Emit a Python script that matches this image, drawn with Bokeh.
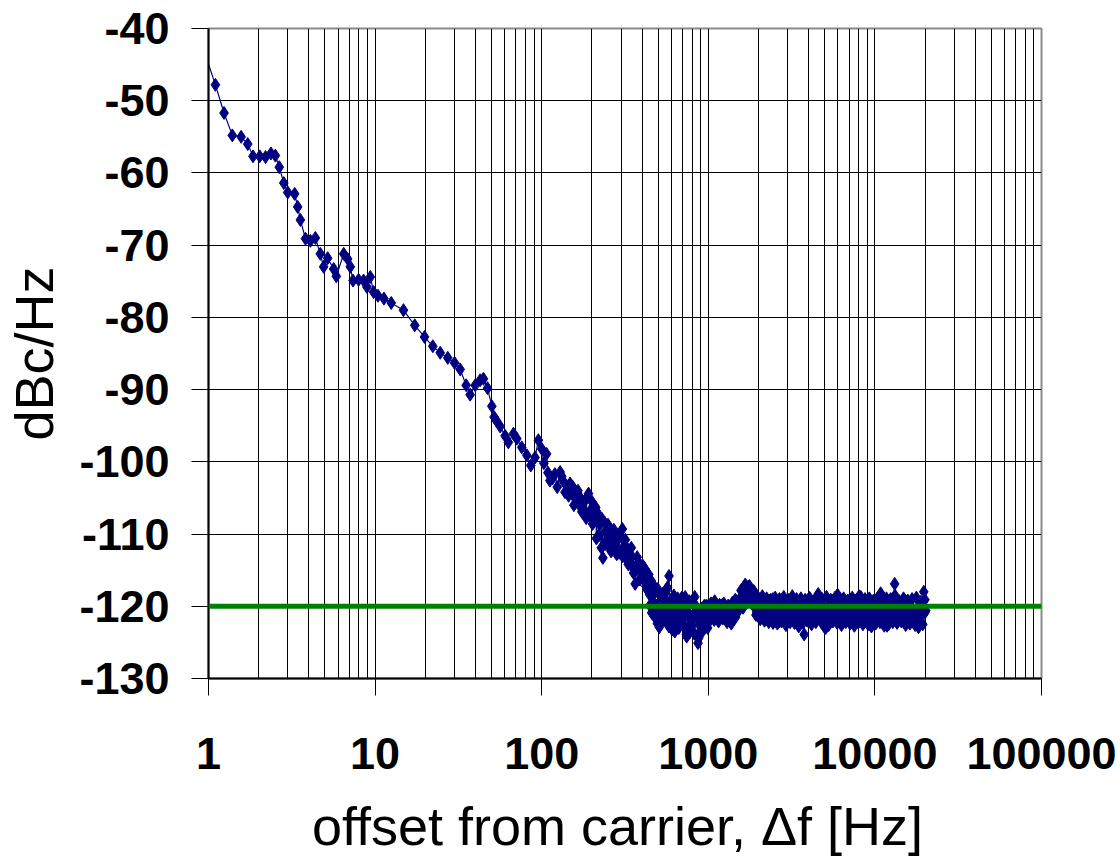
from bokeh.plotting import figure
from bokeh.models import Range1d, FixedTicker, Span, ColumnDataSource
from bokeh.embed import file_html
from bokeh.resources import INLINE

# ---------------- data ----------------
# 1 Hz .. 145 Hz : the sloped part
freq_slope_hz = [
    1.0, 1.10, 1.24, 1.39, 1.57, 1.72, 1.85, 2.03, 2.20, 2.37,
    2.52, 2.66, 2.83, 2.99, 3.29, 3.43, 3.56, 3.82, 4.09, 4.38,
    4.69, 4.91, 5.19, 5.64, 5.85, 6.48, 6.84, 7.10, 7.37, 7.96,
    8.53, 8.94, 9.36, 9.80, 10.4, 11.3, 12.5, 14.8, 17.3, 19.8,
    22.2, 24.6, 27.3, 30.0, 32.4, 35.2, 37.2, 39.9, 42.7, 44.7,
    47.3, 50.2, 51.8, 53.5, 56.3, 60.3, 63.1, 67.7, 70.9, 75.9,
    81.4, 86.0, 91.2, 95.5, 100, 107, 112, 120, 129, 134,
    141, 145,
]
pn_slope_dbc = [
    -44.9, -47.8, -51.7, -54.8, -55.0, -56.0, -57.7, -57.7, -57.8, -57.3,
    -57.6, -59.2, -61.4, -62.7, -62.9, -64.7, -66.5, -69.1, -69.4, -69.0,
    -71.2, -73.0, -71.8, -73.3, -74.3, -71.2, -71.9, -73.0, -74.9, -74.8,
    -74.9, -75.8, -74.4, -76.5, -77.0, -77.4, -78.0, -79.0, -81.1, -82.7,
    -84.0, -84.9, -85.6, -86.3, -87.2, -89.4, -90.7, -89.4, -88.7, -88.5,
    -89.8, -92.3, -93.8, -94.3, -95.1, -96.4, -97.3, -96.1, -96.8, -98.0,
    -99.1, -100.5, -99.4, -97.0, -98.2, -98.9, -102.6, -101.7, -101.4, -102.6,
    -103.3, -104.7,
]
freq_slope_b_hz = [103, 109, 116, 124, 132, 138, 148, 156, 165, 174, 185, 197]
pn_slope_b_dbc = [-100.2, -101.5, -102.3, -103.5, -102.0, -104.2, -103.0, -106.0, -104.0, -106.9, -107.8, -107.6]

# 150 Hz .. 1 kHz : the knee
freq_knee_hz = [
    150, 153, 157, 160, 164, 167, 171, 175, 179, 183,
    187, 191, 195, 200, 204, 209, 213, 218, 223, 228,
    233, 238, 244, 249, 255, 261, 267, 273, 279, 285,
    291, 298, 305, 312, 319, 326, 333, 341, 348, 356,
    364, 372, 381, 389, 398, 407, 416, 426, 435, 445,
    455, 465, 476, 486, 497, 508, 520, 532, 543, 556,
    568, 581, 594, 607, 621, 635, 649, 664, 679, 694,
    710, 726, 742, 759, 776, 793, 811, 829, 848, 867,
    887, 907, 927, 948, 969, 991,
]
pn_knee_dbc = [
    -104.0, -103.4, -104.8, -105.2, -104.3, -105.9, -105.0, -106.2, -105.6, -107.0,
    -104.9, -104.4, -106.8, -105.5, -107.4, -108.1, -110.6, -107.2, -108.6, -111.9,
    -113.3, -108.4, -109.6, -111.0, -109.9, -112.4, -110.6, -112.0, -111.2, -110.5,
    -112.6, -110.3, -109.3, -111.7, -113.3, -112.0, -112.8, -114.0, -113.1, -115.4,
    -116.9, -114.9, -113.9, -114.3, -115.9, -115.8, -114.8, -117.3, -116.1, -118.4,
    -116.5, -119.5, -118.0, -121.3, -117.6, -122.9, -120.4, -118.3, -121.9, -119.2,
    -117.4, -115.8, -120.7, -123.2, -118.5, -120.6, -121.8, -119.4, -122.6, -118.8,
    -120.2, -118.7, -124.2, -121.0, -122.5, -121.8, -119.7, -118.7, -121.6, -125.1,
    -122.6, -120.3, -123.4, -119.9, -121.6, -123.0,
]
freq_knee_b_hz = [
    202, 211, 220, 230, 240, 250, 260, 271, 282, 294,
    306, 318, 331, 345, 359, 374, 389, 405, 422, 439,
    457, 476, 495, 515, 536, 558, 581, 605, 630, 655,
    682, 710, 739, 769, 800, 833, 867, 902, 939, 977,
]
pn_knee_b_dbc = [
    -108.6, -106.3, -110.2, -107.9, -111.4, -108.7, -112.2, -109.4, -112.8, -110.0,
    -113.1, -110.8, -114.2, -111.9, -115.0, -113.2, -116.3, -114.4, -117.2, -115.6,
    -120.9, -117.3, -122.4, -118.6, -121.5, -117.9, -122.8, -119.0, -123.5, -118.9,
    -121.9, -119.6, -123.9, -119.3, -122.7, -119.8, -124.0, -120.6, -122.5, -119.9,
]
freq_knee_c_hz = [
    432, 446, 460, 474, 489, 504, 520, 536, 553, 570,
    588, 606, 625, 645, 665, 686, 707, 729, 752, 775,
    800, 825, 850, 877, 904, 932, 961, 991,
]
pn_knee_c_dbc = [
    -117.8, -119.9, -118.6, -121.4, -119.9, -121.0, -122.2, -120.2, -120.9, -122.4,
    -121.6, -119.8, -122.0, -121.0, -123.0, -120.6, -121.8, -123.0, -120.7, -123.6,
    -121.5, -123.8, -120.8, -124.4, -122.0, -121.2, -122.8, -121.4,
]
# 1 kHz .. 20 kHz : the flat floor
freq_floor_hz = [
    1000, 1015, 1030, 1046, 1061, 1077, 1093, 1110, 1126, 1143,
    1161, 1178, 1196, 1214, 1232, 1250, 1269, 1288, 1307, 1327,
    1347, 1367, 1388, 1408, 1430, 1451, 1473, 1495, 1517, 1540,
    1563, 1587, 1610, 1635, 1659, 1684, 1709, 1735, 1761, 1787,
    1814, 1841, 1869, 1897, 1925, 1954, 1984, 2013, 2044, 2074,
    2106, 2137, 2169, 2202, 2235, 2268, 2302, 2337, 2372, 2408,
    2444, 2480, 2518, 2555, 2594, 2633, 2672, 2712, 2753, 2794,
    2836, 2879, 2922, 2966, 3010, 3055, 3101, 3148, 3195, 3243,
    3292, 3341, 3391, 3442, 3493, 3546, 3599, 3653, 3708, 3763,
    3820, 3877, 3935, 3994, 4054, 4115, 4177, 4239, 4303, 4367,
    4433, 4499, 4567, 4635, 4705, 4775, 4847, 4920, 4993, 5068,
    5144, 5222, 5300, 5380, 5460, 5542, 5625, 5710, 5795, 5882,
    5970, 6060, 6151, 6243, 6337, 6432, 6528, 6626, 6726, 6826,
    6929, 7033, 7138, 7245, 7354, 7464, 7576, 7690, 7805, 7922,
    8041, 8162, 8284, 8408, 8535, 8663, 8793, 8924, 9058, 9194,
    9332, 9472, 9614, 9758, 9905, 10050, 10200, 10360, 10510, 10670,
    10830, 10990, 11160, 11320, 11490, 11670, 11840, 12020, 12200, 12380,
    12570, 12760, 12950, 13140, 13340, 13540, 13740, 13950, 14160, 14370,
    14590, 14800, 15030, 15250, 15480, 15710, 15950, 16190, 16430, 16680,
    16930, 17180, 17440, 17700, 17970, 18240, 18510, 18790, 19070, 19360,
    19650, 19940, 20180,
]
pn_floor_dbc = [
    -121.2, -120.1, -121.8, -120.4, -121.5, -119.6, -119.3, -120.7, -121.0, -120.2,
    -121.5, -120.4, -121.1, -119.8, -120.6, -121.3, -120.2, -121.0, -121.7, -120.5,
    -122.1, -121.0, -120.3, -121.4, -119.6, -119.1, -120.2, -119.4, -120.0, -119.7,
    -118.8, -119.5, -118.4, -117.4, -117.1, -118.0, -118.6, -117.3, -118.1, -117.5,
    -118.4, -118.9, -118.2, -119.4, -120.4, -120.8, -119.7, -120.3, -119.0, -119.6,
    -120.5, -119.3, -120.9, -121.3, -119.7, -120.4, -121.0, -119.2, -120.6, -121.2,
    -119.0, -120.1, -121.4, -120.3, -119.4, -121.0, -122.1, -120.7, -119.6, -120.2,
    -121.3, -119.5, -120.8, -120.4, -119.1, -121.6, -120.3, -119.4, -121.0, -119.2,
    -120.6, -121.9, -119.8, -120.5, -121.4, -121.7, -119.4, -120.9, -122.3, -123.9,
    -121.6, -120.3, -119.5, -121.2, -120.0, -119.8, -121.4, -120.6, -119.3, -121.9,
    -120.8, -119.7, -118.3, -120.2, -121.6, -122.2, -120.4, -121.8, -122.9, -123.0,
    -121.5, -120.3, -119.8, -121.4, -120.6, -119.6, -119.2, -120.8, -121.9, -120.4,
    -118.4, -120.0, -121.3, -122.0, -119.9, -120.7, -121.5, -119.5, -120.3, -121.8,
    -120.6, -121.2, -119.3, -120.7, -122.0, -121.1, -119.8, -120.5, -122.2, -120.9,
    -118.6, -120.3, -121.4, -122.1, -120.0, -119.5, -121.2, -120.4, -121.8, -122.5,
    -120.7, -122.6, -120.9, -119.4, -121.3, -120.2, -121.6, -119.8, -120.5, -121.7,
    -118.2, -120.5, -121.9, -120.3, -121.4, -122.1, -122.7, -120.6, -119.5, -121.0,
    -120.2, -119.1, -119.8, -116.9, -120.4, -121.2, -120.0, -120.8, -120.5, -121.5,
    -119.6, -120.3, -119.1, -120.6, -121.3, -120.1, -121.8, -120.7, -119.9, -121.4,
    -120.8, -121.9, -122.6, -121.3, -120.5, -121.7, -121.6, -120.4, -121.0, -120.2,
    -118.0, -120.9, -120.6,
]
freq_floor_b_hz = [
    1008, 1038, 1069, 1101, 1135, 1169, 1204, 1240, 1277, 1316,
    1355, 1396, 1438, 1481, 1525, 1571, 1618, 1667, 1717, 1768,
    1821, 1876, 1932, 1990, 2050, 2111, 2175, 2240, 2307, 2376,
    2448, 2521, 2597, 2675, 2755, 2838, 2923, 3010, 3101, 3194,
    3290, 3388, 3490, 3595, 3702, 3813, 3928, 4046, 4167, 4292,
    4421, 4553, 4690, 4831, 4976, 5125, 5279, 5437, 5600, 5768,
    5941, 6120, 6303, 6492, 6687, 6888, 7094, 7307, 7526, 7752,
    7985, 8224, 8471, 8725, 8987, 9256, 9534, 9820, 10110, 10420,
    10730, 11050, 11380, 11730, 12080, 12440, 12810, 13200, 13590, 14000,
    14420, 14850, 15300, 15760, 16230, 16720, 17220, 17740, 18270, 18820,
    19380, 19960,
]
pn_floor_b_dbc = [
    -121.3, -119.6, -121.2, -119.7, -121.5, -119.8, -121.1, -119.6, -121.6, -119.9,
    -121.8, -119.5, -121.0, -119.3, -120.6, -117.8, -120.2, -117.0, -119.4, -117.2,
    -119.6, -117.9, -121.2, -118.8, -121.8, -118.6, -122.0, -118.9, -122.2, -119.1,
    -122.3, -118.8, -122.4, -119.0, -122.1, -118.7, -122.6, -119.2, -122.2, -118.6,
    -122.3, -119.0, -122.8, -118.9, -122.2, -119.1, -122.0, -118.8, -122.5, -119.3,
    -122.2, -118.9, -121.9, -119.0, -122.4, -118.7, -122.6, -119.1, -122.1, -118.8,
    -122.3, -119.0, -122.6, -118.9, -122.2, -119.2, -122.4, -118.8, -122.7, -119.1,
    -122.2, -118.7, -122.5, -119.0, -122.3, -118.9, -122.8, -119.2, -122.4, -118.8,
    -122.2, -119.1, -122.7, -118.9, -122.5, -119.0, -122.2, -118.5, -122.3, -119.3,
    -122.1, -118.9, -122.6, -119.2, -122.4, -119.0, -122.2, -118.8, -122.9, -119.4,
    -122.5, -119.1,
]
freq_floor_c_hz = [1020, 1055, 1085, 1118, 1152, 1186, 1222, 1258, 1296, 1335, 1375, 1417, 1459, 1503]
pn_floor_c_dbc = [-122.0, -120.9, -121.9, -120.0, -122.1, -121.0, -121.7, -120.3, -122.2, -121.2, -122.4, -120.6, -121.5, -119.9]

reference_level_dbc = -120

x_ticks = [1, 10, 100, 1000, 10000, 100000]
x_tick_labels = ["1", "10", "100", "1000", "10000", "100000"]
x_minor_ticks = [m * d for d in [1, 10, 100, 1000, 10000] for m in [2, 3, 4, 5, 6, 7, 8, 9]]
y_ticks = [-130, -120, -110, -100, -90, -80, -70, -60, -50, -40]
y_tick_labels = ["-130", "-120", "-110", "-100", "-90", "-80", "-70", "-60", "-50", "-40"]

# merge the measured segments in frequency order
segments = [
    (freq_slope_hz, pn_slope_dbc), (freq_slope_b_hz, pn_slope_b_dbc),
    (freq_knee_hz, pn_knee_dbc), (freq_knee_b_hz, pn_knee_b_dbc), (freq_knee_c_hz, pn_knee_c_dbc),
    (freq_floor_hz, pn_floor_dbc), (freq_floor_b_hz, pn_floor_b_dbc), (freq_floor_c_hz, pn_floor_c_dbc),
]
pairs = []
for fs, vs in segments:
    assert len(fs) == len(vs)
    pairs += list(zip(fs, vs))
pairs.sort()
freq_hz = [a for a, _ in pairs]
pn_dbc = [b for _, b in pairs]

# ---------------- figure ----------------
FONT = "Liberation Sans"

p = figure(
    width=1120, height=862,
    x_axis_type="log",
    x_range=Range1d(1, 100000), y_range=Range1d(-130, -40),
    output_backend="svg", toolbar_location=None,
    min_border_left=208, min_border_right=79, min_border_top=28, min_border_bottom=184,
)
p.background_fill_color = "white"
p.border_fill_color = "white"
p.outline_line_color = "#8a8a8a"
p.outline_line_width = 2

p.xaxis.ticker = FixedTicker(ticks=x_ticks, minor_ticks=x_minor_ticks)
p.xaxis.major_label_overrides = {t: l for t, l in zip(x_ticks, x_tick_labels)}
p.yaxis.ticker = FixedTicker(ticks=y_ticks)
p.yaxis.major_label_overrides = {t: l for t, l in zip(y_ticks, y_tick_labels)}

for ax in (p.xaxis, p.yaxis):
    ax.axis_line_color = "black"
    ax.axis_line_width = 2
    ax.major_tick_line_color = "black"
    ax.major_tick_line_width = 1
    ax.major_tick_out = 17
    ax.major_tick_in = 0
    ax.minor_tick_out = 0
    ax.minor_tick_in = 0
    ax.major_label_text_font = FONT
    ax.major_label_text_font_style = "bold"
    ax.major_label_text_font_size = "45px"
    ax.major_label_text_color = "black"
    ax.axis_label_text_font = FONT
    ax.axis_label_text_font_style = "normal"
    ax.axis_label_text_font_size = "54px"
    ax.axis_label_text_color = "black"

p.xaxis.major_label_standoff = 42
p.xaxis.axis_label = "offset from carrier,  \u0394f [Hz]"
p.xaxis.axis_label_standoff = 24
p.yaxis.major_label_standoff = 22
p.yaxis.axis_label = "dBc/Hz"
p.yaxis.axis_label_standoff = 12

p.xgrid.grid_line_color = "black"
p.xgrid.grid_line_width = 1
p.xgrid.minor_grid_line_color = "black"
p.xgrid.minor_grid_line_width = 1
p.ygrid.grid_line_color = "black"
p.ygrid.grid_line_width = 1

p.add_layout(Span(location=reference_level_dbc, dimension="width",
                  line_color="#008000", line_width=5))

src = ColumnDataSource(dict(f=freq_hz, pn=pn_dbc))
mk = ColumnDataSource(dict(f=freq_hz[1:], pn=pn_dbc[1:]))
p.line("f", "pn", source=src, line_color="#000080", line_width=1.2)
p.scatter("f", "pn", source=mk, marker="diamond", size=13,
          fill_color="#000080", line_color="#000080")

open("out.html", "w").write(file_html(p, INLINE))
